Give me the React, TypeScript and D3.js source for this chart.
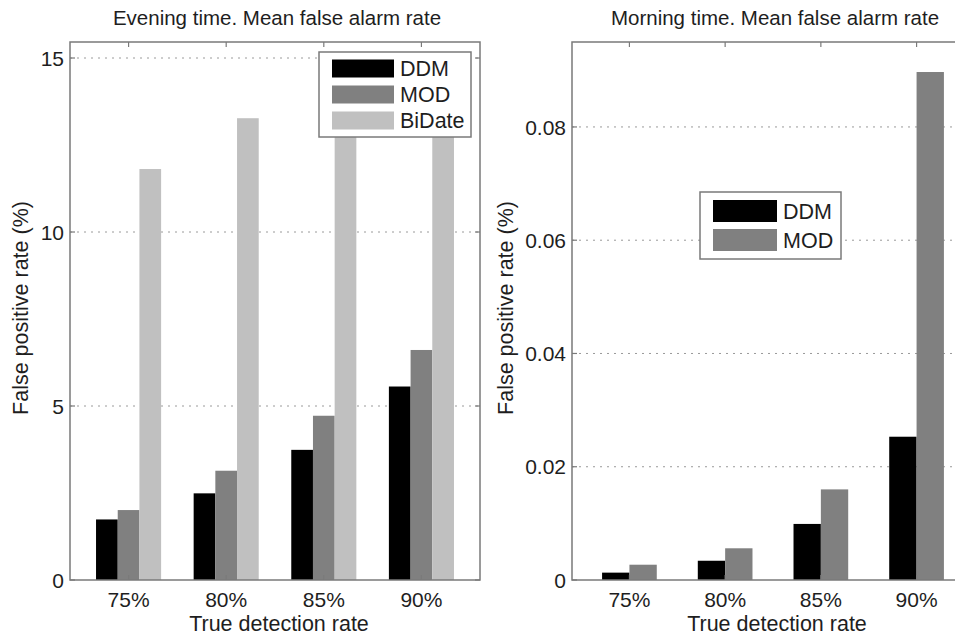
import React from "react";
import * as d3 from "d3";

const categories = ["75%", "80%", "85%", "90%"];

const eveningSeries = ["DDM", "MOD", "BiDate"];
const eveningDDM = [1.74, 2.49, 3.74, 5.56];
const eveningMOD = [2.01, 3.14, 4.72, 6.61];
const eveningBiDate = [11.81, 13.27, 14.1, 14.5];
const eveningTicks = [0, 5, 10, 15];

const morningSeries = ["DDM", "MOD"];
const morningDDM = [0.0013, 0.0034, 0.0099, 0.0253];
const morningMOD = [0.0027, 0.0056, 0.016, 0.0897];
const morningTicks = [0, 0.02, 0.04, 0.06, 0.08];

const seriesColors = ["#000000", "#808080", "#c0c0c0"];

const FONT = "'Liberation Sans', Arial, Helvetica, sans-serif";
const TEXT = "#1e1e1e";
const AXIS = "#7a7a7a";

type PanelProps = {
  title: string;
  left: number;
  right: number;
  top: number;
  bottom: number;
  yMax: number;
  ticks: number[];
  tickFmt: (v: number) => string;
  series: string[];
  values: number[][];
  legend: { x: number; y: number; w: number; h: number; swW: number; swH: number; row: number };
  yLabelX: number;
};

function Panel(p: PanelProps) {
  const x = d3.scaleLinear().domain([0.4, 4.6]).range([p.left, p.right]);
  const y = d3.scaleLinear().domain([0, p.yMax]).range([p.bottom, p.top]);
  const n = p.series.length;
  const groupW = Math.min(0.8, n / (n + 1.5));
  const barW = groupW / n;
  const tickLen = 5;
  const cx = (p.left + p.right) / 2;
  const cy = (p.top + p.bottom) / 2;
  return (
    <g>
      <text x={cx + 2} y={25} textAnchor="middle" fontSize={20.5} fontFamily={FONT} fill={TEXT}>
        {p.title}
      </text>
      {p.ticks.filter((t) => t > 0).map((t) => (
        <line key={"g" + t} x1={p.left} x2={p.right} y1={y(t)} y2={y(t)} stroke="#9a9a9a" strokeWidth={1} strokeDasharray="2,5" />
      ))}
      {p.values.map((vals, j) =>
        vals.map((v, i) => {
          const x0 = x(i + 1 - groupW / 2 + j * barW);
          const x1 = x(i + 1 - groupW / 2 + (j + 1) * barW);
          return (
            <rect key={j + "-" + i} x={x0} y={y(v)} width={x1 - x0} height={y(0) - y(v)} fill={seriesColors[j]} />
          );
        })
      )}
      <rect x={p.left} y={p.top} width={p.right - p.left} height={p.bottom - p.top} fill="none" stroke={AXIS} strokeWidth={1.5} />
      {p.ticks.map((t) => (
        <g key={"t" + t}>
          <line x1={p.left} x2={p.left + tickLen} y1={y(t)} y2={y(t)} stroke={AXIS} strokeWidth={1.2} />
          <line x1={p.right} x2={p.right - tickLen} y1={y(t)} y2={y(t)} stroke={AXIS} strokeWidth={1.2} />
          <text x={p.left - 6} y={y(t)} dy="0.36em" textAnchor="end" fontSize={21} fontFamily={FONT} fill={TEXT}>
            {p.tickFmt(t)}
          </text>
        </g>
      ))}
      {categories.map((c, i) => (
        <g key={c}>
          <line x1={x(i + 1)} x2={x(i + 1)} y1={p.top} y2={p.top + tickLen} stroke={AXIS} strokeWidth={1.2} />
          <line x1={x(i + 1)} x2={x(i + 1)} y1={p.bottom} y2={p.bottom - tickLen} stroke={AXIS} strokeWidth={1.2} />
          <text x={x(i + 1)} y={607} textAnchor="middle" fontSize={21} fontFamily={FONT} fill={TEXT}>
            {c}
          </text>
        </g>
      ))}
      <text x={cx + 4} y={631} textAnchor="middle" fontSize={21.5} fontFamily={FONT} fill={TEXT}>
        True detection rate
      </text>
      <text
        transform={`translate(${p.yLabelX},${cy - 3}) rotate(-90)`}
        textAnchor="middle"
        dy="0.36em"
        fontSize={21.5}
        fontFamily={FONT}
        fill={TEXT}
      >
        False positive rate (%)
      </text>
      <g transform={`translate(${p.legend.x},${p.legend.y})`}>
        <rect x={0} y={0} width={p.legend.w} height={p.legend.h} fill="#ffffff" stroke={AXIS} strokeWidth={1.5} />
        {p.series.map((s, j) => {
          const rowC = p.legend.h / 2 + (j - (n - 1) / 2) * p.legend.row;
          return (
            <g key={s}>
              <rect x={13} y={rowC - p.legend.swH / 2} width={p.legend.swW} height={p.legend.swH} fill={seriesColors[j]} />
              <text x={13 + p.legend.swW + 6} y={rowC} dy="0.36em" fontSize={21.5} fontFamily={FONT} fill={TEXT}>
                {s}
              </text>
            </g>
          );
        })}
      </g>
    </g>
  );
}

export default function App() {
  return (
    <svg width={955} height={635} style={{ position: "absolute", left: 0, top: 0, background: "#fff" }}>
      <rect x={0} y={0} width={955} height={635} fill="#ffffff" />
      <Panel
        title="Evening time. Mean false alarm rate"
        left={70}
        right={480}
        top={42}
        bottom={580}
        yMax={15.46}
        ticks={eveningTicks}
        tickFmt={(v) => d3.format("d")(v)}
        series={eveningSeries}
        values={[eveningDDM, eveningMOD, eveningBiDate]}
        legend={{ x: 319, y: 52, w: 152, h: 85, swW: 62, swH: 18, row: 26 }}
        yLabelX={20}
      />
      <Panel
        title="Morning time. Mean false alarm rate"
        left={572}
        right={974}
        top={42}
        bottom={580}
        yMax={0.095}
        ticks={morningTicks}
        tickFmt={(v) => (v === 0 ? "0" : d3.format(".2f")(v))}
        series={morningSeries}
        values={[morningDDM, morningMOD]}
        legend={{ x: 700, y: 192, w: 141, h: 67, swW: 64, swH: 22, row: 29 }}
        yLabelX={505}
      />
    </svg>
  );
}
